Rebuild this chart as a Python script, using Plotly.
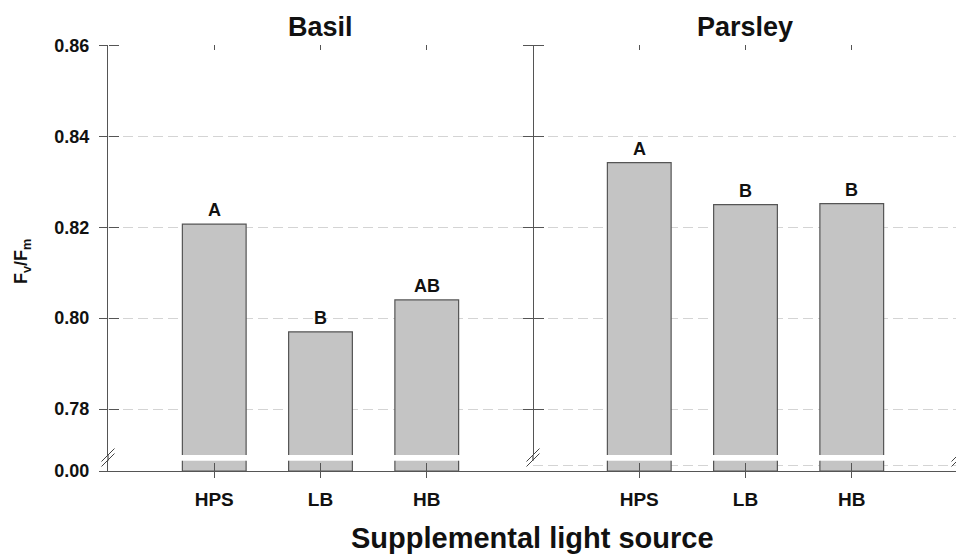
import plotly.graph_objects as go

# Fv/Fm of basil and parsley under three supplemental light sources
categories = ["HPS", "LB", "HB"]
cat_pos = [1, 2, 3]
basil = [0.8207, 0.7970, 0.8040]
parsley = [0.8342, 0.8250, 0.8252]
basil_letters = ["A", "B", "AB"]
parsley_letters = ["A", "B", "B"]
y_ticks = [0.78, 0.80, 0.82, 0.84, 0.86]
y_tick_text = ["0.78", "0.80", "0.82", "0.84", "0.86"]

W, H = 956, 557
ML, MR, MT, MB = 108, 0, 45, 86
PW, PH = W - ML - MR, H - MT - MB


def px(x):
    return (x - ML) / PW


def py(y):
    return (H - MB - y) / PH


split = px(533)
upper_dom = [py(455), 1.0]
lower_dom = [0.0, py(460.7)]
upper_rng = [0.86 - 410 / 4550, 0.8601]
lower_rng = [0.0, 0.05]
right_rng = [0.0, 423 / 106.25]

FONT = dict(family="Liberation Sans, Arial, sans-serif", color="#111111")
AX = "#555555"
BAR_FILL = "#c4c4c4"
GRID = "#d4d4d4"

fig = go.Figure()

bar_style = dict(marker=dict(color=BAR_FILL, line=dict(color=AX, width=1.2)),
                 width=0.6, showlegend=False, hoverinfo="skip")

# upper segments (broken axis) and lower stubs for each panel
fig.add_trace(go.Bar(x=cat_pos, y=basil, xaxis="x", yaxis="y", **bar_style))
fig.add_trace(go.Bar(x=cat_pos, y=basil, xaxis="x", yaxis="y2", **bar_style))
fig.add_trace(go.Bar(x=cat_pos, y=parsley, xaxis="x2", yaxis="y", **bar_style))
fig.add_trace(go.Bar(x=cat_pos, y=parsley, xaxis="x2", yaxis="y3", **bar_style))

# empty traces so the extra tick-only axes get drawn
for xa, ya in [("x3", "y2"), ("x4", "y3"), ("x5", "y"), ("x6", "y"),
               ("x", "y4"), ("x2", "y5"), ("x2", "y6")]:
    fig.add_trace(go.Scatter(x=[None], y=[None], xaxis=xa, yaxis=ya, mode="markers",
                             showlegend=False, hoverinfo="skip"))

tickfont = dict(FONT, size=18, weight="bold")
xtickfont = dict(FONT, size=19, weight="bold")

xcommon = dict(tickvals=cat_pos, showgrid=False, zeroline=False,
               tickcolor=AX, linecolor=AX, linewidth=1.3, tickwidth=1.3)
ycommon = dict(showgrid=False, zeroline=False, tickcolor=AX,
               linecolor=AX, linewidth=1.3, tickwidth=1.3)

fig.update_layout(
    width=W, height=H,
    margin=dict(l=ML, r=MR, t=MT, b=MB),
    paper_bgcolor="white", plot_bgcolor="rgba(0,0,0,0)",
    barmode="overlay",
    font=FONT,
    xaxis=dict(xcommon, domain=[0, split], anchor="y2", range=[0, 4],
               ticktext=categories, ticks="outside", ticklen=6,
               showline=True, tickfont=xtickfont, ticklabelstandoff=5),
    xaxis2=dict(xcommon, domain=[split, 1], anchor="y3", range=right_rng,
                ticktext=categories, ticks="outside", ticklen=6,
                showline=True, tickfont=xtickfont, ticklabelstandoff=5),
    # inward tick halves on the bottom axes
    xaxis3=dict(xcommon, overlaying="x", anchor="y2", side="bottom", range=[0, 4],
                ticks="inside", ticklen=8, showticklabels=False, showline=False),
    xaxis4=dict(xcommon, overlaying="x2", anchor="y3", side="bottom", range=right_rng,
                ticks="inside", ticklen=8, showticklabels=False, showline=False),
    # small ticks along the top edge
    xaxis5=dict(xcommon, overlaying="x", anchor="y", side="top", range=[0, 4],
                ticks="inside", ticklen=5, showticklabels=False, showline=False),
    xaxis6=dict(xcommon, overlaying="x2", anchor="y", side="top", range=right_rng,
                ticks="inside", ticklen=5, showticklabels=False, showline=False),
    yaxis=dict(ycommon, domain=upper_dom, anchor="x", range=upper_rng,
               tickvals=y_ticks, ticktext=y_tick_text, ticks="outside", ticklen=8,
               showline=True, showgrid=True, gridcolor=GRID, griddash="10px,5px",
               gridwidth=1, tickfont=tickfont, ticklabelstandoff=6),
    yaxis2=dict(ycommon, domain=lower_dom, anchor="x", range=lower_rng,
                tickvals=[0], ticktext=["0.00"], ticks="outside", ticklen=8,
                showline=True, tickfont=tickfont, ticklabelstandoff=6),
    yaxis3=dict(ycommon, domain=lower_dom, anchor="x2", range=lower_rng,
                tickvals=[0.025], ticks="", showticklabels=False, showline=False,
                showgrid=True, gridcolor=GRID, griddash="10px,5px", gridwidth=1),
    # inward tick halves on the left axis
    yaxis4=dict(ycommon, overlaying="y", anchor="free", position=0, side="right",
                range=upper_rng, tickvals=y_ticks, ticks="outside", ticklen=10,
                showticklabels=False, showline=False),
    # axis between the two panels, ticks crossing it
    yaxis5=dict(ycommon, overlaying="y", anchor="free", position=split, side="left",
                range=upper_rng, tickvals=y_ticks, ticks="outside", ticklen=10,
                showticklabels=False, showline=True),
    yaxis6=dict(ycommon, overlaying="y", anchor="free", position=split, side="right",
                range=upper_rng, tickvals=y_ticks, ticks="outside", ticklen=10,
                showticklabels=False, showline=False),
)

# significance letters above the bars
letter_font = dict(FONT, size=18, weight="bold")
for xs, vals, lets, xr in [(cat_pos, basil, basil_letters, "x"),
                           (cat_pos, parsley, parsley_letters, "x2")]:
    for xv, v, t in zip(xs, vals, lets):
        fig.add_annotation(x=xv, y=v, xref=xr, yref="y", text=t, showarrow=False,
                           yanchor="bottom", yshift=2, font=letter_font)

# panel titles and axis titles
title_font = dict(FONT, size=27, weight="bold")
fig.add_annotation(x=0.5, xref="x domain", y=py(27), yref="paper", text="Basil",
                   showarrow=False, font=title_font, yanchor="middle")
fig.add_annotation(x=0.5, xref="x2 domain", y=py(27), yref="paper", text="Parsley",
                   showarrow=False, font=title_font, yanchor="middle")
fig.add_annotation(x=px(532), xref="paper", y=py(538), yref="paper",
                   text="Supplemental light source", showarrow=False,
                   font=dict(FONT, size=29, weight="bold"), yanchor="middle")
fig.add_annotation(x=px(22), xref="paper", y=py(262), yref="paper",
                   text="F<sub>v</sub>/F<sub>m</sub>", textangle=-90, showarrow=False,
                   font=dict(FONT, size=18, weight="bold"), xanchor="center",
                   yanchor="middle")

# axis lines carried through the break, plus the break marks
for xa in (0, split):
    fig.add_shape(type="line", xref="paper", yref="paper", x0=xa, x1=xa,
                  y0=lower_dom[1], y1=upper_dom[0], line=dict(color=AX, width=1.3))

for cx in (108, 533, 958):
    for dy in (-2.5, 2.5):
        fig.add_shape(type="line", xref="paper", yref="paper",
                      x0=px(cx - 6.5), y0=py(457.5 + dy + 6.5),
                      x1=px(cx + 6.5), y1=py(457.5 + dy - 6.5),
                      line=dict(color="#444444", width=1))

fig.write_html("out.html")
